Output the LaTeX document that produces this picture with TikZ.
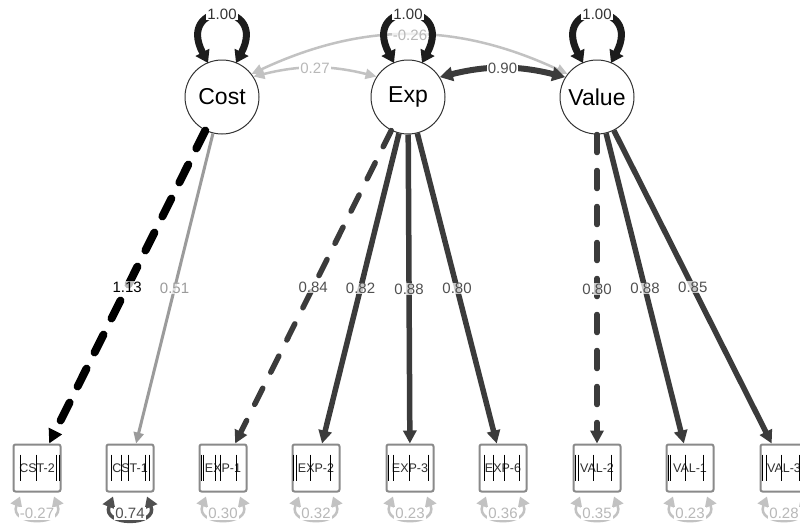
\documentclass[tikz,border=0pt]{standalone}
\usepackage{fontspec}
\setmainfont{Liberation Sans}
\usetikzlibrary{arrows.meta,calc}

\definecolor{latborder}{HTML}{333333}
\definecolor{boxborder}{HTML}{8A8A8A}
\definecolor{boxtext}{HTML}{2E2E2E}
\definecolor{darkedge}{HTML}{3B3B3B}
\definecolor{midedge}{HTML}{9B9B9B}
\definecolor{lightedge}{HTML}{C2C2C2}
\definecolor{loopc}{HTML}{1C1C1C}
\definecolor{darklbl}{HTML}{505050}
\definecolor{lightlbl}{HTML}{B8B8B8}

\begin{document}
\begin{tikzpicture}[x=1pt,y=-1pt,
  lat/.style={circle, draw=latborder, line width=1pt, fill=white,
    minimum size=74pt, inner sep=0pt, font=\fontsize{23}{27}\selectfont},
  obs/.style={rectangle, rounded corners=2pt, draw=boxborder, line width=2pt,
    fill=white, minimum width=47pt, minimum height=47pt, inner sep=0pt,
    font=\fontsize{12.5}{14}\selectfont, text=boxtext},
  lbl/.style={font=\fontsize{15}{17}\selectfont, inner sep=1pt},
  haze/.style={fill=white, fill opacity=0.72, text opacity=1, inner sep=0.5pt},
  load/.style={draw=darkedge, line width=5.5pt,
    -{Triangle[length=13pt,width=13pt]}},
  dashload/.style={load, dash pattern=on 18pt off 18pt, line cap=round},
  varloop/.style={draw=loopc, line width=7pt,
    {Triangle[length=12pt,width=15pt]}-{Triangle[length=12pt,width=15pt]}},
  covlight/.style={draw=lightedge, line width=2.5pt,
    {Triangle[length=11pt,width=10pt]}-{Triangle[length=11pt,width=10pt]}},
  covdark/.style={draw=darkedge, line width=6pt,
    {Triangle[length=13pt,width=14pt]}-{Triangle[length=13pt,width=14pt]}},
  resid/.style={draw=lightedge, line width=2.5pt,
    {Triangle[length=10pt,width=12pt]}-{Triangle[length=10pt,width=12pt]}},
  thrline/.style={draw=black, line width=1.3pt},
]
\useasboundingbox[fill=white] (0,0) rectangle (800,528);

% latent factors
\node[lat] (Cost)  at (222,97) {Cost};
\node[lat] (Exp)   at (408,97) {Exp};
\node[lat] (Value) at (597,97) {Value};

% indicators
\node[obs] (CST2) at (37,468)  {CST-2};
\node[obs] (CST1) at (130,468) {CST-1};
\node[obs] (EXP1) at (223,468) {EXP-1};
\node[obs] (EXP2) at (316,468) {EXP-2};
\node[obs] (EXP3) at (410,468) {EXP-3};
\node[obs] (EXP6) at (503,468) {EXP-6};
\node[obs] (VAL2) at (597,468) {VAL-2};
\node[obs] (VAL1) at (690,468) {VAL-1};
\node[obs] (VAL3) at (784,468) {VAL-3};

% threshold marks inside the indicator boxes
\foreach \b/\offs in {CST2/{8,24,44,47}, CST1/{6,16,23,40,44},
    EXP1/{3,5,17,22,38}, EXP2/{2,5,19,39}, EXP3/{3,8,24,43},
    EXP6/{6,15,26,41}, VAL2/{3,6,21,39}, VAL1/{3,5,20,38}, VAL3/{3,7,22,40}} {
  \foreach \o in \offs
    \draw[thrline] ($(\b.north west)+(\o,11)$) -- ++(0,26);
}

% factor covariance Cost--Value (label set after the loops)
\draw[covlight] (Cost.38) to[bend left=25] (Value.142);

% factor variances
\foreach \f in {Cost,Exp,Value} {
  \draw[varloop] ($(\f.center)+(-14,-34)$) .. controls +(-33,-63) and +(33,-63) .. ($(\f.center)+(14,-34)$);
  \node[lbl, text=latborder, fill=white] at ($(\f.center)+(0,-83)$) {1.00};
}
\node[lbl, text=lightlbl, haze] at ($(Exp.center)+(2,-62)$) {-0.26};

\draw[covlight] (Cost.33) to[bend left=14]
  node[lbl, text=lightlbl, fill=white] {0.27} (Exp.147);
\draw[covdark] (Exp.32) to[bend left=14]
  node[lbl, text=darklbl, fill=white] {0.90} (Value.148);

% loadings
\draw[dashload, draw=black, line width=8pt, -{Triangle[length=14pt,width=14pt]},
  dash pattern=on 20pt off 18pt]
  (Cost) -- node[lbl, haze, text=black, midway] {1.13} (CST2);
\draw[load, draw=midedge, line width=3pt, -{Triangle[length=11pt,width=10pt]}]
  (Cost) -- node[lbl, haze, text=midedge, midway] {0.51} (CST1);
\draw[dashload] (Exp) -- node[lbl, haze, text=darklbl, midway] {0.84} (EXP1);
\draw[load] (Exp) -- node[lbl, haze, text=darklbl, midway] {0.82} (EXP2);
\draw[load] (Exp) -- node[lbl, haze, text=darklbl, midway] {0.88} (EXP3);
\draw[load] (Exp) -- node[lbl, haze, text=darklbl, midway] {0.80} (EXP6);
\draw[dashload] (Value) -- node[lbl, haze, text=darklbl, midway] {0.80} (VAL2);
\draw[load] (Value) -- node[lbl, haze, text=darklbl, midway] {0.88} (VAL1);
\draw[load] (Value) -- node[lbl, haze, text=darklbl, midway] {0.85} (VAL3);

% residual variances
\foreach \b/\v in {CST2/-0.27, EXP1/0.30, EXP2/0.32, EXP3/0.23,
    EXP6/0.36, VAL2/0.35, VAL1/0.23, VAL3/0.28} {
  \draw[resid] ($(\b.south)+(-17,4)$) .. controls +(-12,30) and +(12,30) .. ($(\b.south)+(17,4)$);
  \node[lbl, text=lightlbl, fill=white] at ($(\b.south)+(0,21)$) {\v};
}
\draw[resid, draw=darklbl, line width=3.5pt,
  {Triangle[length=11pt,width=13pt]}-{Triangle[length=11pt,width=13pt]}]
  ($(CST1.south)+(-17,4)$) .. controls +(-12,30) and +(12,30) .. ($(CST1.south)+(17,4)$);
\node[lbl, text=darklbl, fill=white] at ($(CST1.south)+(0,21)$) {0.74};
\end{tikzpicture}
\end{document}
